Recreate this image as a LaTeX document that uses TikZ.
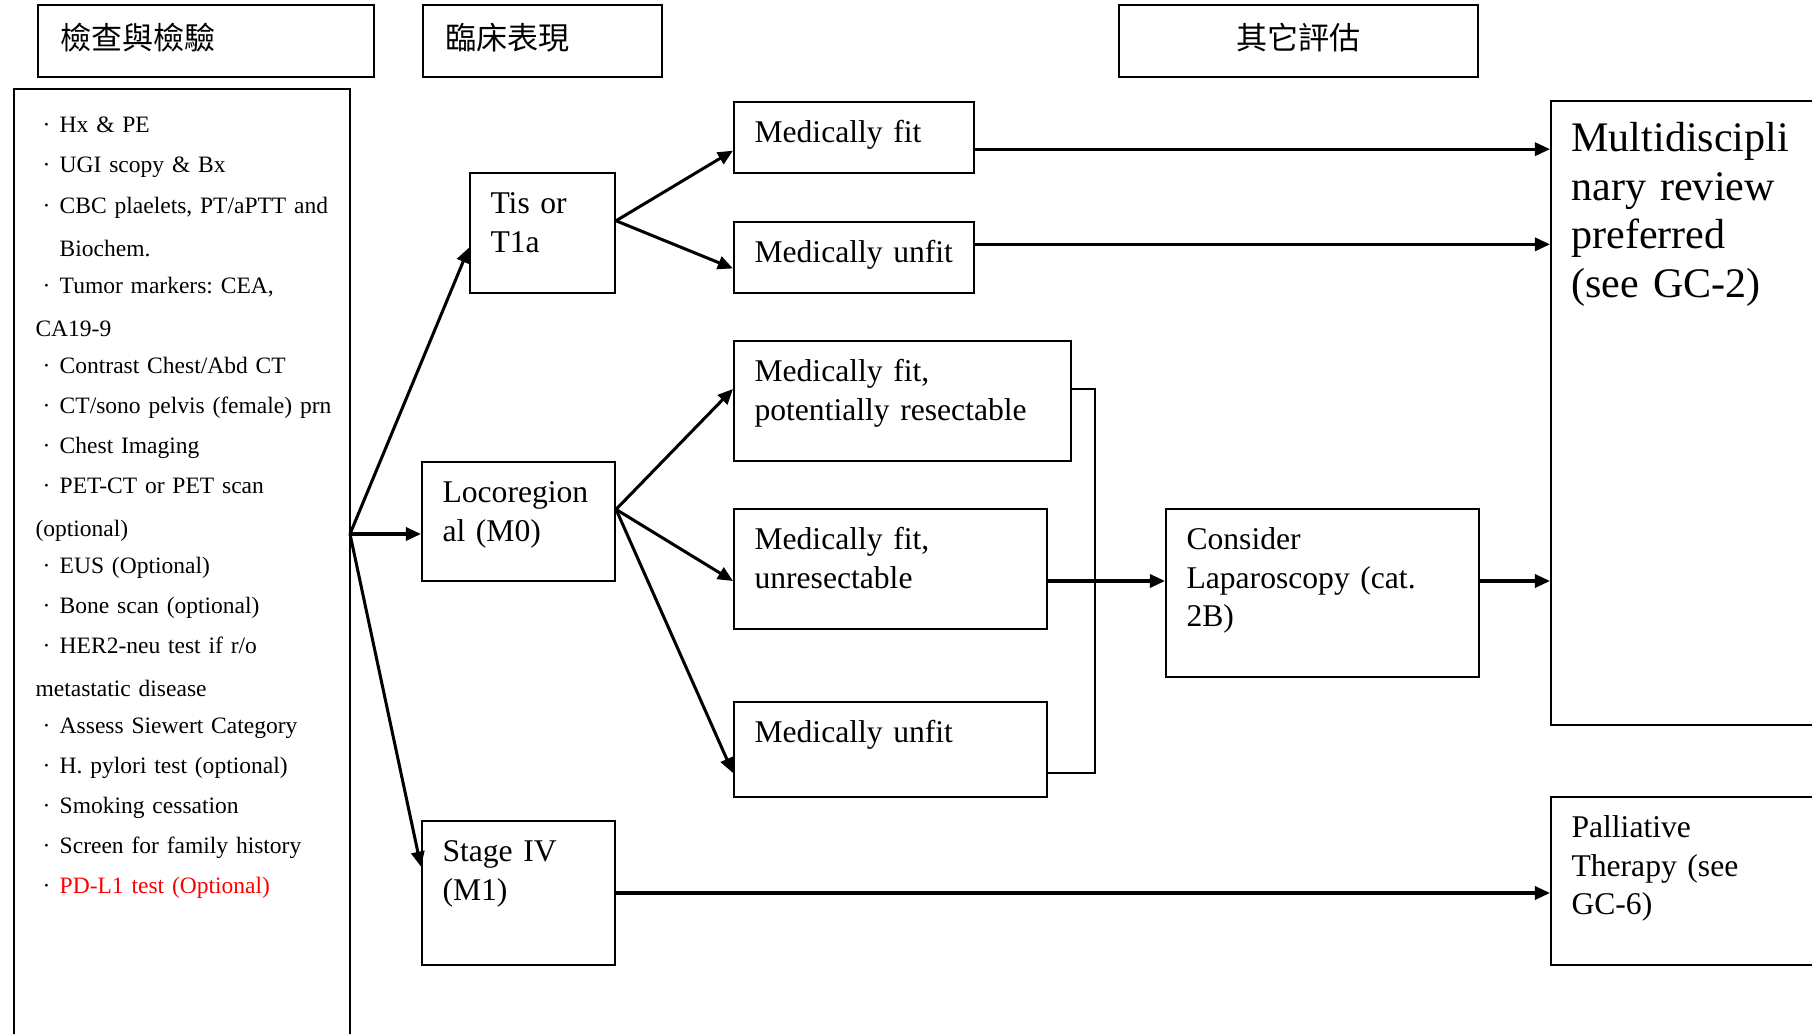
\documentclass[tikz,border=0pt]{standalone}
\usepackage{fontspec}
\setmainfont{Liberation Serif}
\newfontfamily\cjk{Noto Sans CJK TC}
\usetikzlibrary{arrows.meta,fit,calc}

\newcommand\itm{\makebox[8.8pt][l]{\hspace{2.6pt}·}}

\tikzset{
  box/.style={draw, line width=0.75pt, inner sep=0pt},
  txt/.style={anchor=base west, inner sep=0pt, align=left, text width=150pt,
    font=\fontsize{11.5}{13.9}\selectfont\frenchspacing},
  bigtxt/.style={txt, font=\fontsize{15.3}{17.6}\selectfont\frenchspacing},
  listtxt/.style={txt, font=\fontsize{8.55}{14.55}\selectfont\frenchspacing},
  head/.style={inner sep=0pt, font=\cjk\fontsize{11.3}{13}\selectfont},
  arr/.style={line width=1.1pt, -{Triangle[length=5.5pt,width=4.8pt]}},
  conn/.style={line width=0.9pt},
}

\begin{document}
\begin{tikzpicture}[x=0.3637pt, y=-0.3637pt]
  \clip (0,0) rectangle (1812,1034);

  % headers
  \node[box, fit={(38,5) (374,77)}] (h1) {};
  \node[head, anchor=west] (h1t) at ([shift={(23,-3)}]h1.west) {檢查與檢驗};
  \node[box, fit={(423,5) (662,77)}] (h2) {};
  \node[head, anchor=west] (h2t) at ([shift={(23,-3)}]h2.west) {臨床表現};
  \node[box, fit={(1119,5) (1478,77)}] (h3) {};
  \node[head] (h3t) at ([shift={(0,-3)}]h3.center) {其它評估};

  % work-up list
  \node[box, fit={(14,89) (350,1060)}] (workbox) {};
  \node[listtxt] (work) at (35,133) {%
    \itm Hx \& PE\\
    \itm UGI scopy \& Bx\\
    \itm CBC plaelets, PT/aPTT and\\[1.1pt]
    \hspace*{8.8pt}Biochem.\\[-1.1pt]
    \itm Tumor markers: CEA,\\[1.1pt]
    CA19-9\\[-1.1pt]
    \itm Contrast Chest/Abd CT\\
    \itm CT/sono pelvis (female) prn\\
    \itm Chest Imaging\\
    \itm PET-CT or PET scan\\[1.1pt]
    (optional)\\[-1.1pt]
    \itm EUS (Optional)\\
    \itm Bone scan (optional)\\
    \itm HER2-neu test if r/o\\[1.1pt]
    metastatic disease\\[-1.1pt]
    \itm Assess Siewert Category\\
    \itm H. pylori test (optional)\\
    \itm Smoking cessation\\
    \itm Screen for family history\\
    \itm\textcolor{red}{PD-L1 test (Optional)}};

  % clinical presentation
  \node[box, fit={(470,173) (615,293)}] (tis) {};
  \node[txt] (tist) at ([shift={(21,42)}]tis.north west) {Tis or\\T1a};
  \node[box, fit={(422,462) (615,581)}] (loco) {};
  \node[txt] (locot) at ([shift={(21,42)}]loco.north west) {Locoregion\\al (M0)};
  \node[box, fit={(422,821) (615,965)}] (stage) {};
  \node[txt] (staget) at ([shift={(21,42)}]stage.north west) {Stage IV\\(M1)};

  % fitness
  \node[box, fit={(734,102) (974,173)}] (fit) {};
  \node[txt] (fitt) at ([shift={(21,42)}]fit.north west) {Medically fit};
  \node[box, fit={(734,222) (974,293)}] (unfit) {};
  \node[txt] (unfitt) at ([shift={(21,42)}]unfit.north west) {Medically unfit};
  \node[box, fit={(734,341) (1071,461)}] (res) {};
  \node[txt] (rest) at ([shift={(21,42)}]res.north west) {Medically fit,\\potentially resectable};
  \node[box, fit={(734,509) (1047,629)}] (unres) {};
  \node[txt] (unrest) at ([shift={(21,42)}]unres.north west) {Medically fit,\\unresectable};
  \node[box, fit={(734,702) (1047,797)}] (mu2) {};
  \node[txt] (mu2t) at ([shift={(21,42)}]mu2.north west) {Medically unfit};

  % other evaluation
  \node[box, fit={(1166,509) (1479,677)}] (lap) {};
  \node[txt] (lapt) at ([shift={(21,42)}]lap.north west) {Consider\\Laparoscopy (cat.\\2B)};
  \node[box, fit={(1551,101) (1830,725)}] (multi) {};
  \node[bigtxt] (multit) at ([shift={(21,52)}]multi.north west) {Multidiscipli\\nary review\\preferred\\(see GC-2)};
  \node[box, fit={(1551,797) (1830,965)}] (pall) {};
  \node[txt] (pallt) at ([shift={(21,42)}]pall.north west) {Palliative\\Therapy (see\\GC-6)};

  % connectors
  \coordinate (fan) at (350,534);
  \coordinate (tisout) at ($(tis.north east)!.4!(tis.south east)$);
  \coordinate (locout) at ($(loco.north east)!.4!(loco.south east)$);
  \coordinate (fitout) at ($(fit.north east)!.66!(fit.south east)$);
  \coordinate (unfitout) at ($(unfit.north east)!.32!(unfit.south east)$);
  \coordinate (br1) at (1095,389);
  \coordinate (br0) at (1095,581);
  \coordinate (br2) at (1095,773);

  \draw[arr] (fan) -- ($(tis.north west)!.62!(tis.south west)$);
  \draw[arr] (fan) -- (loco.west |- fan);
  \draw[arr] (fan) -- ($(stage.north west)!.32!(stage.south west)$);
  \draw[arr] (tisout) -- ($(fit.north west)!.68!(fit.south west)$);
  \draw[arr] (tisout) -- ($(unfit.north west)!.65!(unfit.south west)$);
  \draw[arr] (locout) -- (res.west |- br1);
  \draw[arr] (locout) -- (unres.west |- br0);
  \draw[arr] (locout) -- (mu2.west |- br2);
  \draw[arr] (fitout) -- (multi.west |- fitout);
  \draw[arr] (unfitout) -- (multi.west |- unfitout);
  \draw[conn] (res.east |- br1) -- (br1) -- (br2) -- (mu2.east |- br2);
  \draw[arr] (unres.east |- br0) -- (lap.west |- br0);
  \draw[arr] (lap.east |- br0) -- (multi.west |- br0);
  \draw[arr] (stage.east) -- (pall.west |- stage.east);
\end{tikzpicture}
\end{document}
